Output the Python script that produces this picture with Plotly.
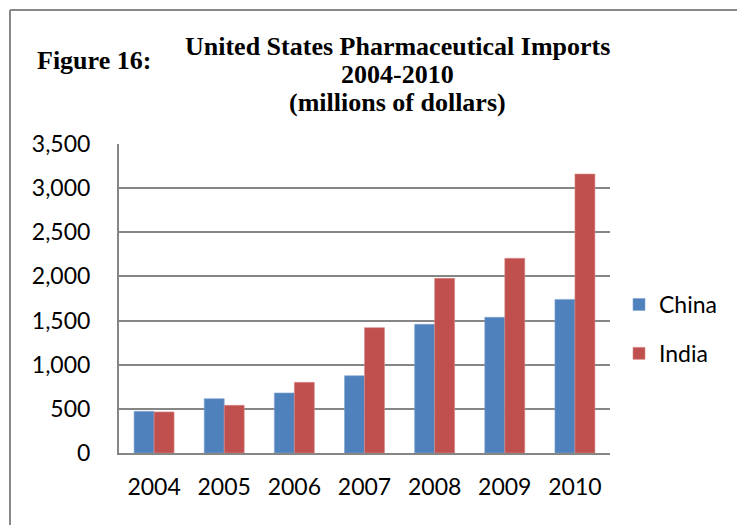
import plotly.graph_objects as go

years = ["2004", "2005", "2006", "2007", "2008", "2009", "2010"]
china = [472, 615, 680, 875, 1457, 1537, 1740]
india = [465, 540, 800, 1420, 1978, 2205, 3160]
y_ticks = [0, 500, 1000, 1500, 2000, 2500, 3000, 3500]
y_tick_labels = ["0", "500", "1,000", "1,500", "2,000", "2,500", "3,000", "3,500"]

W, H = 737, 525
L, R, T, B = 119, 127, 144, 72
pw, ph = W - L - R, H - T - B

def px(x):
    return (x - L) / pw

def py(y):
    return (H - B - y) / ph

fig = go.Figure()
fig.add_trace(go.Bar(name="China", x=years, y=china, marker=dict(color="#4F81BD", line=dict(color="#7FA3D0", width=0.6)), legendgroup="a"))
fig.add_trace(go.Bar(name="India", x=years, y=india, marker=dict(color="#C0504D", line=dict(color="#D98C8A", width=0.6)), legendgroup="b"))

tick_font = dict(family="Lato, Carlito, sans-serif", size=23, color="#000000")
title_font = dict(family="Liberation Serif, Times New Roman, serif", size=26, color="#000000")

fig.update_layout(
    width=W, height=H,
    margin=dict(l=L, r=R, t=T, b=B),
    paper_bgcolor="white", plot_bgcolor="white",
    barmode="group", bargap=0.43, bargroupgap=0,
    showlegend=True,
    legend=dict(x=px(619), y=py(283), xanchor="left", yanchor="top",
                font=tick_font, tracegroupgap=16, bgcolor="rgba(0,0,0,0)"),
    xaxis=dict(showgrid=False, showline=True, linecolor="#868686", linewidth=2,
               tickfont=tick_font, ticks="", ticklabelstandoff=12),
    yaxis=dict(range=[0, 3500], tickvals=y_ticks, ticktext=y_tick_labels,
               showgrid=True, gridcolor="#868686", gridwidth=2,
               showline=True, linecolor="#868686", linewidth=2,
               zeroline=False, tickfont=tick_font, ticks="", ticklabelstandoff=22),
    annotations=[
        dict(text="<b>Figure 16:</b>", x=px(35), y=py(61), xref="paper", yref="paper",
             xanchor="left", yanchor="middle", showarrow=False, font=title_font),
        dict(text="<b>United States Pharmaceutical Imports</b>", x=px(397), y=py(46), xref="paper", yref="paper",
             xanchor="center", yanchor="middle", showarrow=False, font=title_font),
        dict(text="<b>2004-2010</b>", x=px(397), y=py(74), xref="paper", yref="paper",
             xanchor="center", yanchor="middle", showarrow=False, font=title_font),
        dict(text="<b>(millions of dollars)</b>", x=px(397), y=py(102), xref="paper", yref="paper",
             xanchor="center", yanchor="middle", showarrow=False, font=title_font),
    ],
    shapes=[
        dict(type="line", xref="paper", yref="paper", x0=px(10), x1=px(10), y0=py(10), y1=py(H + 5),
             line=dict(color="#888888", width=2)),
        dict(type="line", xref="paper", yref="paper", x0=px(10), x1=px(W + 5), y0=py(10), y1=py(10),
             line=dict(color="#888888", width=2)),
    ],
)

fig.write_html("out.html")
